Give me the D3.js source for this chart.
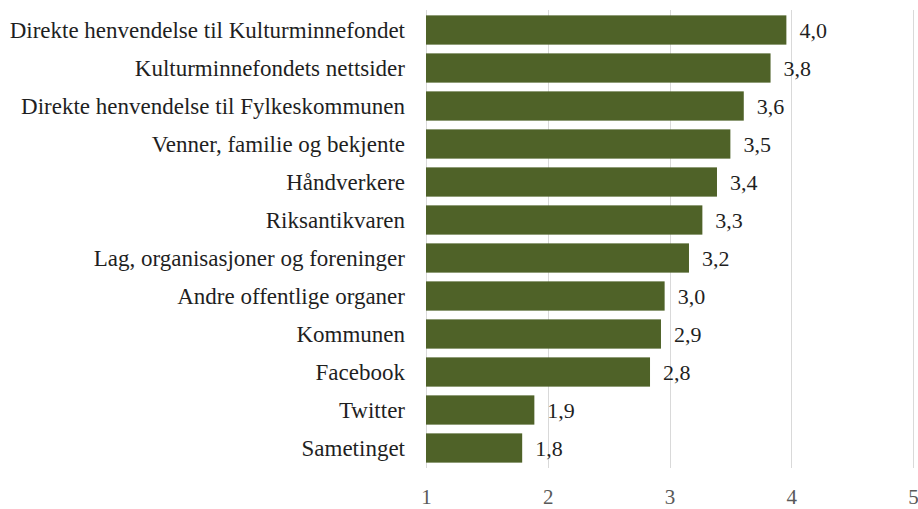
<!DOCTYPE html>
<html><head><meta charset="utf-8">
<script src="https://cdn.jsdelivr.net/npm/d3@7"></script>
<style>body{margin:0;background:#fff}svg{display:block}</style>
</head><body>
<svg id="c" width="918" height="509" style="font-family:'Liberation Serif',serif"></svg>
<script>
const categories = ["Direkte henvendelse til Kulturminnefondet","Kulturminnefondets nettsider","Direkte henvendelse til Fylkeskommunen","Venner, familie og bekjente","Håndverkere","Riksantikvaren","Lag, organisasjoner og foreninger","Andre offentlige organer","Kommunen","Facebook","Twitter","Sametinget"];
const values = [3.96,3.83,3.61,3.50,3.39,3.27,3.16,2.96,2.93,2.84,1.89,1.79];
const ticks = [1,2,3,4,5];

const svg = d3.select("#c");
const font = "'Liberation Serif', serif";
const x = d3.scaleLinear().domain([1,5]).range([426,913]);
const y = d3.scaleBand().domain(categories).range([11,467]).paddingInner(0.23).paddingOuter(0.115);

svg.append("g").selectAll("line").data(ticks).join("line")
  .attr("x1",d=>Math.round(x(d))+0.5).attr("x2",d=>Math.round(x(d))+0.5)
  .attr("y1",10).attr("y2",468).attr("stroke","#d9d9d9").attr("stroke-width",1);

svg.append("g").selectAll("rect").data(values).join("rect")
  .attr("x",x(1)).attr("y",(d,i)=>y(categories[i]))
  .attr("width",d=>x(d)-x(1)).attr("height",y.bandwidth())
  .attr("fill","#4f6228");

svg.append("g").selectAll("text").data(values).join("text")
  .attr("x",d=>x(d)+13).attr("y",(d,i)=>y(categories[i])+y.bandwidth()/2)
  .attr("dy","0.35em").style("font-family",font).style("font-size","22px").attr("fill","#1f1f1f")
  .text(d=>d.toFixed(1).replace(".",","));

svg.append("g").selectAll("text").data(categories).join("text")
  .attr("x",405).attr("y",d=>y(d)+y.bandwidth()/2).attr("dy","0.35em")
  .attr("text-anchor","end").style("font-family",font).style("font-size","23px").attr("fill","#1f1f1f")
  .text(d=>d);

const ax = d3.axisBottom(x).tickValues(ticks).tickSize(0).tickPadding(0).tickFormat(d3.format("d"));
const g = svg.append("g").attr("transform","translate(0,497)").call(ax);
g.attr("font-family",null);
g.select(".domain").remove();
g.selectAll("text").style("font-family",font).style("font-size","21px").attr("fill","#595959").attr("dy","0.35em").attr("y",0);
</script>
</body></html>
